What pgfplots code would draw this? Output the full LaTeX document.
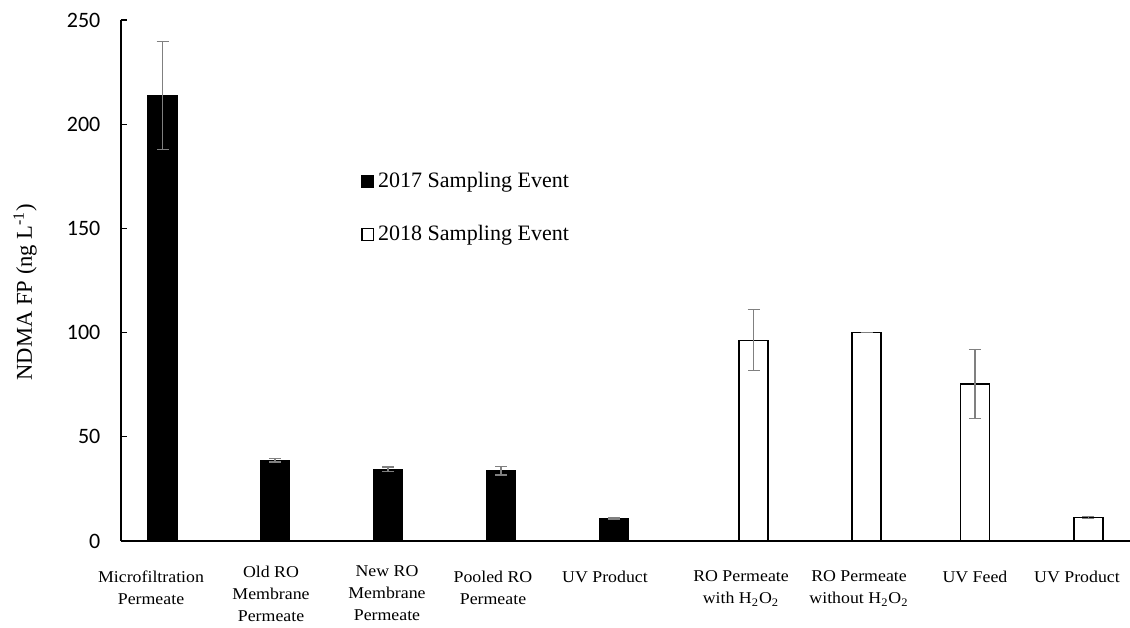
\documentclass[border=0pt]{standalone}
\usepackage{fontspec}
\setmainfont{Liberation Serif}
\newfontfamily\labfont{Liberation Serif}[FakeStretch=1.08]
\newfontfamily\tickfont{Carlito}
\usepackage{pgfplots}
\pgfplotsset{compat=1.18}
\pgfplotsset{sqlegend/.style={legend image code/.code={\draw[##1,line width=0.6pt] (0pt,-2.9pt) rectangle (5.8pt,2.9pt);}}}
\begin{document}
\begin{tikzpicture}
\path[use as bounding box] (-60.5pt,-43pt) rectangle (504.5pt,270.5pt);
\begin{axis}[
  at={(0,0)}, anchor=south west,
  scale only axis, width=504.5pt, height=260.5pt,
  xmin=-0.483, xmax=8.454, ymin=0, ymax=250,
  axis x line=bottom, axis y line=left,
  axis line style={-, line width=0.6pt, black},
  ytick={0,50,...,250},
  ytick align=inside, major tick length=3pt,
  ytick style={line width=0.6pt, black},
  xtick={-0.217,2.812,3.804,5.009,6.054,7.081,7.985},
  xticklabels={{Microfiltration\\Permeate},{Pooled RO\\Permeate},{UV Product},{RO Permeate\\with H\textsubscript{2}O\textsubscript{2}},{RO Permeate\\without H\textsubscript{2}O\textsubscript{2}},{UV Feed},{UV Product}},
  extra x ticks={0.846,1.873},
  extra x tick labels={{Old RO\\Membrane\\Permeate},{New RO\\Membrane\\Permeate}},
  extra x tick style={xtick style={draw=none}, tick label style={yshift=2.5pt}},
  xtick style={draw=none},
  xticklabel style={align=center, font={\labfont\fontsize{8.25}{11}\selectfont}, yshift=-10pt},
  yticklabel style={font={\tickfont\fontsize{11}{13}\selectfont}, xshift=-6.8pt},
  /pgf/number format/assume math mode=true,
  ylabel={NDMA FP (ng L\textsuperscript{-1})},
  ylabel style={at={(axis description cs:-0.0951,0.478)}, anchor=center, font={\fontsize{11.3}{13}\selectfont}},
  legend style={at={(axis description cs:0.2379,0.709)}, anchor=north west, draw=none, fill=none,
    font={\fontsize{11}{13}\selectfont}, row sep=17.6pt, column sep=2pt, inner sep=0pt, nodes={inner sep=0pt}},
  legend cell align=left,
  clip=false,
]
\addplot[ybar, bar width=14.5pt, bar shift=0pt, fill=black, draw=black, line width=0.6pt, sqlegend,
  error bars/.cd, y dir=both, y explicit,
  error bar style={line width=0.6pt, black!50},
  error mark options={line width=0.6pt, black!50, mark size=3pt, rotate=90}]
  coordinates {
  (-0.115,213.7) +- (0,26.0)
  (0.881,38.8) +- (0,0.9)
  (1.882,34.4) +- (0,1.1)
  (2.883,33.7) +- (0,2.0)
  (3.884,10.7) +- (0,0.3)
  };
\addlegendentry{2017 Sampling Event}
\addplot[ybar, bar width=14.5pt, bar shift=0pt, fill=white, draw=black, line width=0.6pt, sqlegend,
  error bars/.cd, y dir=both, y explicit,
  error bar style={line width=0.6pt, black!50},
  error mark options={line width=0.6pt, black!50, mark size=3pt, rotate=90}]
  coordinates {
  (5.120,96.3) +- (0,14.6)
  (6.121,100.0) +- (0,0)
  (7.081,75.3) +- (0,16.7)
  (8.086,11.2) +- (0,0.4)
  };
\addlegendentry{2018 Sampling Event}
\end{axis}
\end{tikzpicture}
\end{document}
